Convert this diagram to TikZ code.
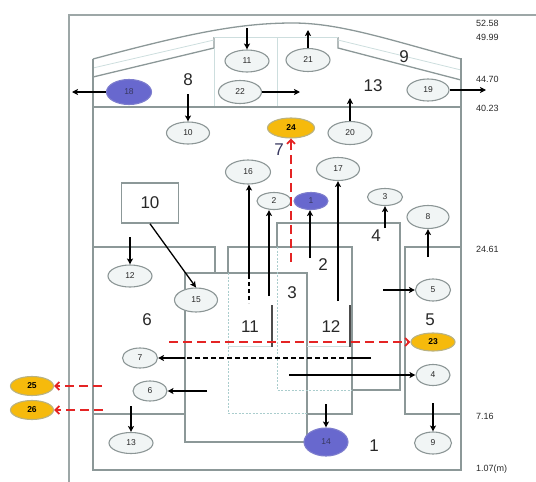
\documentclass[tikz,border=0pt]{standalone}
\usepackage{fontspec}
\setmainfont{Liberation Sans}
\usetikzlibrary{arrows.meta,calc,shapes.geometric}
\definecolor{wall}{RGB}{140,152,152}
\definecolor{faintc}{RGB}{205,222,222}
\definecolor{dotc}{RGB}{170,205,205}
\definecolor{elld}{RGB}{140,150,150}
\definecolor{ellf}{RGB}{241,245,245}
\definecolor{bluef}{RGB}{104,104,206}
\definecolor{blued}{RGB}{125,125,205}
\definecolor{orangef}{RGB}{246,186,12}
\definecolor{oranged}{RGB}{185,178,130}
\definecolor{redd}{RGB}{228,36,36}
\definecolor{txt}{RGB}{40,40,40}
\definecolor{navy}{RGB}{55,55,95}
\begin{document}
\begin{tikzpicture}[x=1pt,y=-1pt,
  wallline/.style={draw=wall,line width=1.3pt},
  faint/.style={draw=faintc,line width=0.8pt},
  dotl/.style={draw=dotc,line width=1pt,dash pattern=on 2pt off 1.5pt},
  el/.style 2 args={ellipse,draw=elld,fill=ellf,line width=1.1pt,inner sep=0pt,
    minimum width=#1,minimum height=#2,text=txt,font=\fontsize{8.5}{9}\selectfont},
  elb/.style 2 args={el={#1}{#2},fill=bluef,draw=blued,text=navy},
  elo/.style 2 args={el={#1}{#2},fill=orangef,draw=oranged,text=black,font=\fontsize{8.5}{9}\selectfont\bfseries},
  reg/.style={text=txt,font=\fontsize{17}{19}\selectfont,inner sep=0pt},
  lvl/.style={text=txt,font=\fontsize{9}{10}\selectfont,anchor=west,inner sep=0pt},
  arr/.style={draw=black,line width=1.3pt,-{Stealth[length=6pt,width=6pt,inset=1.5pt]}},
  redarr/.style={draw=redd,line width=1.8pt,dash pattern=on 9pt off 5pt,-{Straight Barb[length=4pt,width=8pt]}},
  boxten/.style={draw=wall,line width=1.5pt,fill=white,minimum width=57pt,minimum height=40pt,inner sep=0pt,text=txt,font=\fontsize{17}{19}\selectfont}
]
\useasboundingbox (0,0) rectangle (536,482);

% outer frame
\draw[draw=wall!85,line width=1.4pt] (69,482) -- (69,15) -- (536,15);

% roof
\draw[wallline] (93,59) .. controls (190,33) and (240,23) .. (293,23) .. controls (340,23) and (390,40) .. (461,59);
\draw[wallline] (93,77) -- (214,48) -- (214,37);
\draw[wallline] (461,80) -- (338,48) -- (338,37);
\draw[faint] (214,37) -- (338,37);
\draw[faint] (214,48) -- (214,107);
\draw[faint] (277,37) -- (277,107);
\draw[faint] (93,68) -- (214,40);
\draw[faint] (338,40) -- (461,70);

% building
\draw[wallline] (93,59) -- (93,470) -- (461,470) -- (461,58);
\draw[wallline] (93,107) -- (461,107);

% region 6
\draw[wallline] (93,247) -- (215,247) -- (215,273);
\draw[wallline] (93,414) -- (185,414);
% box B (region 3)
\draw[wallline] (185,273) rectangle (307,442);
% region 2
\draw[wallline] (228,273) -- (228,247) -- (352,247) -- (352,414) -- (307,414);
\draw[dotl] (228,273) -- (228,413) -- (307,413);
% region 4
\draw[wallline] (277,247) -- (277,223) -- (400,223) -- (400,390) -- (352,390);
\draw[dotl] (277,247) -- (277,390) -- (352,390);
% region 5
\draw[wallline] (461,247) -- (405,247) -- (405,414) -- (461,414);
% boxes 11 and 12
\draw[faint] (228,346) -- (272,346);
\draw[faint] (307,346) -- (350,346);
\draw[draw=black!70,line width=1.2pt] (272,305) -- (272,347);
\draw[draw=black!70,line width=1.2pt] (350,305) -- (350,347);

% region labels
\node[reg] (r1) at (374,446) {1};
\node[reg] (r2) at (323,265) {2};
\node[reg] (r3) at (292,293) {3};
\node[reg] (r4) at (376,236) {4};
\node[reg] (r5) at (430,320) {5};
\node[reg] (r6) at (147,320) {6};
\node[reg,text=navy] (r7) at (279,150) {7};
\node[reg] (r8) at (188,80) {8};
\node[reg] (r9) at (404,57) {9};
\node[reg] (r11) at (250,327) {11};
\node[reg] (r12) at (331,327) {12};
\node[reg] (r13) at (373,86) {13};
\node[boxten] (b10) at (150,203) {10};

% level labels
\node[lvl] (l1) at (476,23) {52.58};
\node[lvl] (l2) at (476,37) {49.99};
\node[lvl] (l3) at (476,79) {44.70};
\node[lvl] (l4) at (476,108) {40.23};
\node[lvl] (l5) at (476,249) {24.61};
\node[lvl] (l6) at (476,416) {7.16};
\node[lvl] (l7) at (476,469) {1.07(m)};

% ellipses
\node[el={44pt}{22pt}] (n11) at (247,61) {11};
\node[el={44pt}{23pt}] (n21) at (308,60) {21};
\node[el={43pt}{23pt}] (n22) at (240,92) {22};
\node[elb={45pt}{25pt}] (n18) at (129,92) {18};
\node[el={42pt}{22pt}] (n19) at (428,90) {19};
\node[el={43pt}{22pt}] (n10) at (188,133) {10};
\node[el={44pt}{23pt}] (n20) at (350,133) {20};
\node[elo={47pt}{20pt}] (n24) at (291,128) {24};
\node[el={45pt}{24pt}] (n16) at (248,172) {16};
\node[el={43pt}{23pt}] (n17) at (338,169) {17};
\node[el={34pt}{17pt}] (n2) at (274,201) {2};
\node[elb={34pt}{17pt}] (n1) at (311,201) {1};
\node[el={35pt}{17pt}] (n3) at (385,197) {3};
\node[el={42pt}{23pt}] (n8) at (428,217) {8};
\node[el={44pt}{22pt}] (n12) at (130,276) {12};
\node[el={43pt}{24pt}] (n15) at (196,300) {15};
\node[el={35pt}{22pt}] (n5) at (433,290) {5};
\node[elo={44pt}{18pt}] (n23) at (433,342) {23};
\node[el={35pt}{20pt}] (n7) at (140,358) {7};
\node[el={34pt}{21pt}] (n4) at (433,375) {4};
\node[el={34pt}{20pt}] (n6) at (150,391) {6};
\node[elo={43pt}{19pt}] (n25) at (32,386) {25};
\node[elo={43pt}{19pt}] (n26) at (32,410) {26};
\node[el={44pt}{21pt}] (n13) at (131,443) {13};
\node[elb={44pt}{28pt}] (n14) at (326,442) {14};
\node[el={37pt}{22pt}] (n9) at (433,443) {9};

% free ends
\coordinate (s11) at (247,28);
\coordinate (e21) at (308,30);
\coordinate (e22) at (300,92);
\coordinate (e18) at (72,92);
\coordinate (e19) at (486,90);
\coordinate (s10) at (188,94);
\coordinate (e20) at (350,98);
\coordinate (s24) at (291,262);
\coordinate (s16) at (249,275);
\coordinate (d16) at (249,303);
\coordinate (s2) at (269,296);
\coordinate (s1) at (310,258);
\coordinate (s17) at (338,301);
\coordinate (s3) at (385,228);
\coordinate (s8) at (428,257);
\coordinate (s5) at (383,290);
\coordinate (s12) at (130,237);
\coordinate (s7) at (371,358);
\coordinate (m7a) at (352,358);
\coordinate (m7b) at (185,358);
\coordinate (s6) at (207,391);
\coordinate (s4) at (289,375);
\coordinate (s23) at (169,342);
\coordinate (s25) at (102,386);
\coordinate (s26) at (103,410);
\coordinate (s13) at (131,406);
\coordinate (s14) at (326,404);
\coordinate (s9) at (433,403);

% arrows
\draw[arr] (s11) -- (n11.north);
\draw[arr] (n21.north) -- (e21);
\draw[arr] (n22.east) -- (e22);
\draw[arr] (n18.west) -- (e18);
\draw[arr] (n19.east) -- (e19);
\draw[arr] (s10) -- (n10.north);
\draw[arr] (n20.north) -- (e20);
\draw[arr] (s16) -- (s16 |- n16.south);
\draw[draw=black,line width=1.3pt,dash pattern=on 4pt off 3pt] (s16) -- (d16);
\draw[arr] (s2) -- (s2 |- n2.south);
\draw[arr] (s1) -- (s1 |- n1.south);
\draw[arr] (s17) -- (s17 |- n17.south);
\draw[arr] (s3) -- (n3.south);
\draw[arr] (s8) -- (n8.south);
\draw[arr] (s5) -- (n5.west);
\draw[arr] (s12) -- (n12.north);
\draw[arr] (b10.south) -- (n15.north);
\draw[draw=black,line width=1.3pt] (s7) -- (m7a);
\draw[draw=black,line width=1.3pt,dash pattern=on 5pt off 3pt] (m7a) -- (m7b);
\draw[arr] (m7b) -- (n7.east);
\draw[arr] (s6) -- (n6.east);
\draw[arr] (s4) -- (n4.west);
\draw[arr] (s13) -- (n13.north);
\draw[arr] (s14) -- (n14.north);
\draw[arr] (s9) -- (n9.north);

% red dashed
\draw[redarr] (s24) -- (n24.south);
\draw[redarr] (s23) -- (n23.west);
\draw[redarr] (s25) -- (n25.east);
\draw[redarr] (s26) -- (n26.east);
\end{tikzpicture}
\end{document}
